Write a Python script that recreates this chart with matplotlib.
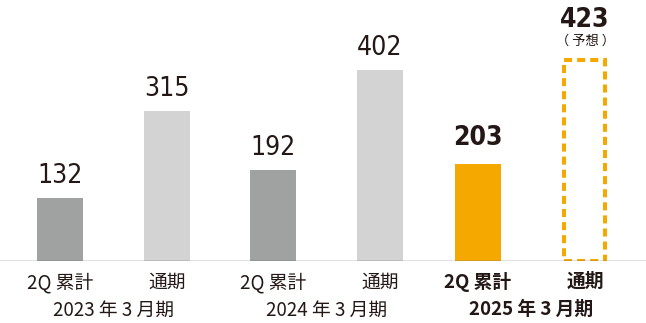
import matplotlib.pyplot as plt
from matplotlib.patches import Rectangle

plt.rcParams['font.family'] = ['Noto Sans CJK JP', 'DejaVu Sans']

periods = ['2Q累計', '通期', '2Q累計', '通期', '2Q累計', '通期']
years = ['2023年3月期', '2024年3月期', '2025年3月期']
values = [132, 315, 192, 402, 203, 423]
forecast_note = '（予想）'

colors = ['#a0a2a1', '#d3d3d3', '#a0a2a1', '#d3d3d3', '#f5a800', 'none']
xpos = [60, 167, 273, 380, 478, 585]
bar_w = 46
txt_c = '#231815'


def jspace(s):
    # put a small gap between latin and japanese characters, like the original typesetting
    out = ''
    for a, b in zip(s, s[1:] + ' '):
        out += a
        if b != ' ' and (a.isascii() != b.isascii()):
            out += ' '
    return out


fig = plt.figure(figsize=(6.46, 3.23), dpi=100)
ax = fig.add_axes([0, 62 / 323, 1, 251 / 323])
ax.set_xlim(0, 646)
ax.set_ylim(0, 528)
ax.axis('off')

for i, (x, v, c) in enumerate(zip(xpos, values, colors)):
    bold = i >= 4
    if c != 'none':
        ax.bar(x, v, width=bar_w, color=c, zorder=2)
        gap = 19 if bold else 15
    else:
        ax.add_patch(Rectangle((x - 21, 0), 41, v, fill=False, edgecolor='#f5a800',
                               lw=2.9, ls=(0, (2.0, 1.25)), zorder=2))
        gap = 33
    ax.annotate(str(v), (x, v), xytext=(0, gap), textcoords='offset pixels',
                ha='center', va='baseline', fontsize=19, family='DejaVu Sans',
                fontstretch='condensed', fontweight='bold' if bold else 'normal',
                color=txt_c)
    # category label under the axis
    ax.annotate(jspace(periods[i]), (x, 0), xytext=(0, -11), textcoords='offset pixels',
                ha='center', va='top', fontsize=13.5,
                fontweight='bold' if bold else 'normal', color=txt_c)

note = forecast_note[0] + ' ' + forecast_note[1:-1] + ' ' + forecast_note[-1]
ax.annotate(note, (xpos[5], values[5]), xytext=(0, 19), textcoords='offset pixels',
            ha='center', va='center', fontsize=9.5, color=txt_c)

for j, y in enumerate(years):
    xc = (xpos[2 * j] + xpos[2 * j + 1]) / 2
    ax.annotate(jspace(y), (xc, 0), xytext=(0, -39), textcoords='offset pixels',
                ha='center', va='top', fontsize=13.5,
                fontweight='bold' if j == 2 else 'normal', color=txt_c)

ax.axhline(0, color='#666666', lw=1, zorder=3)

fig.savefig('out.png', dpi=100)
